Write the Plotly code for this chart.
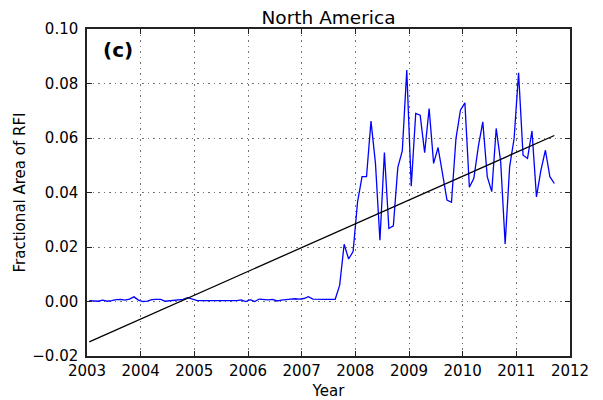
import numpy as np
import plotly.graph_objects as go

# Monthly fractional area of RFI over North America, Jan 2003 - Sep 2011
start_year = 2003
rfi_fraction = [
    0.0003, 0.0003, 0.0001, 0.0005, 0.0001, 0.0003, 0.0007, 0.0008, 0.0005, 0.0009,
    0.0017, 0.0005, 0.0000, 0.0001, 0.0007, 0.0008, 0.0008, 0.0001, 0.0003, 0.0004,
    0.0005, 0.0008, 0.0014, 0.0008, 0.0004, 0.0003, 0.0003, 0.0003, 0.0003, 0.0003,
    0.0003, 0.0003, 0.0003, 0.0003, 0.0006, 0.0000, 0.0007, 0.0000, 0.0009, 0.0008,
    0.0006, 0.0008, 0.0002, 0.0005, 0.0008, 0.0009, 0.0010, 0.0009, 0.0011, 0.0018,
    0.0009, 0.0008, 0.0008, 0.0008, 0.0008, 0.0008, 0.0060, 0.0210, 0.0156, 0.0183,
    0.0366, 0.0458, 0.0458, 0.0662, 0.0507, 0.0225, 0.0547, 0.0268, 0.0278, 0.0492,
    0.0553, 0.0849, 0.0423, 0.0690, 0.0684, 0.0546, 0.0708, 0.0507, 0.0565, 0.0464,
    0.0372, 0.0364, 0.0598, 0.0702, 0.0729, 0.0419, 0.0452, 0.0568, 0.0659, 0.0458,
    0.0403, 0.0635, 0.0513, 0.0211, 0.0494, 0.0598, 0.0839, 0.0537, 0.0525, 0.0626,
    0.0384, 0.0482, 0.0555, 0.0458, 0.0433,
]
# decimal year at mid-month
years = [start_year + (i + 0.5) / 12 for i in range(len(rfi_fraction))]

x_ticks = list(range(2003, 2013))
y_ticks = [-0.02, 0.0, 0.02, 0.04, 0.06, 0.08, 0.10]
y_tick_text = ["\u22120.02", "0.00", "0.02", "0.04", "0.06", "0.08", "0.10"]

# least-squares linear trend over the record
slope, intercept = np.polyfit(years, rfi_fraction, 1)
trend_x = [years[0], years[-1]]
trend_y = [slope * x + intercept for x in trend_x]

FONT = "DejaVu Sans"

fig = go.Figure()
fig.add_trace(go.Scatter(x=years, y=rfi_fraction, mode="lines",
                         line=dict(color="#0000ff", width=1.3),
                         showlegend=False, hoverinfo="skip"))
fig.add_trace(go.Scatter(x=trend_x, y=trend_y, mode="lines",
                         line=dict(color="#000000", width=1.3),
                         showlegend=False, hoverinfo="skip"))

axis_common = dict(
    showline=True, linecolor="#222222", linewidth=1.5, mirror="ticks",
    ticks="inside", ticklen=5, tickwidth=1, tickcolor="#222222",
    showgrid=True, gridcolor="rgba(0,0,0,0.55)", gridwidth=1,
    griddash="1.5px,4px", zeroline=False, automargin=False,
    tickfont=dict(family=FONT, size=15, color="#000000"),
)

fig.update_xaxes(
    range=[2003, 2012], tickvals=x_ticks, ticktext=[str(v) for v in x_ticks],
    ticklabelstandoff=0,
    title=dict(text="Year", font=dict(family=FONT, size=15, color="#000000"), standoff=10),
    **axis_common,
)
fig.update_yaxes(
    range=[-0.02, 0.10], tickvals=y_ticks, ticktext=y_tick_text,
    ticklabelstandoff=4,
    title=dict(text="Fractional Area of RFI", font=dict(family=FONT, size=15, color="#000000"), standoff=3),
    **axis_common,
)

fig.update_layout(
    width=603, height=400,
    margin=dict(l=87, r=33, t=29, b=44),
    paper_bgcolor="white", plot_bgcolor="white",
    title=dict(text="North America", x=0.5, xref="paper", y=1 - 17.5 / 400,
               yref="container", yanchor="middle", xanchor="center",
               font=dict(family=FONT, size=18.5, color="#000000")),
    annotations=[dict(text="<b>(c)</b>", xref="paper", yref="paper",
                      x=14 / 483, y=1 - 21 / 327, xanchor="left", yanchor="middle",
                      showarrow=False,
                      font=dict(family=FONT, size=20, color="#000000"))],
)

fig.write_html("out.html")
